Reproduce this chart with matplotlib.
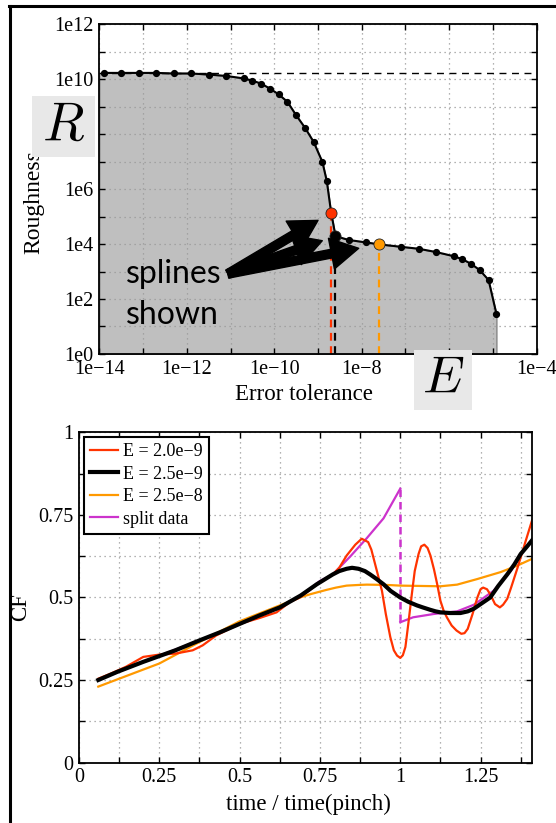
import numpy as np
import matplotlib
matplotlib.use("Agg")
import matplotlib.pyplot as plt
from matplotlib.patches import Rectangle
from matplotlib.lines import Line2D

plt.rcParams['font.family'] = ['Liberation Serif', 'DejaVu Serif']
plt.rcParams['mathtext.fontset'] = 'cm'

# ---- top panel: roughness vs error tolerance (log10 values)
log_tol = [-13.9, -13.5, -13.1, -12.7, -12.3, -11.9, -11.5, -11.1, -10.7, -10.5,
           -10.3, -10.1, -9.9, -9.7, -9.5, -9.3, -9.1, -8.9, -8.8, -8.7, -8.6,
           -8.3, -7.9, -7.6, -7.1, -6.7, -6.3, -5.9, -5.7, -5.5, -5.3, -5.1, -4.92]
log_rough = [10.23, 10.23, 10.23, 10.23, 10.21, 10.21, 10.17, 10.12, 10.03, 9.95,
             9.84, 9.66, 9.45, 9.18, 8.69, 8.24, 7.72, 6.99, 6.30, 5.15, 4.29,
             4.15, 4.06, 3.99, 3.90, 3.83, 3.71, 3.56, 3.45, 3.28, 3.05, 2.69, 1.45]
shown_E = [2.0e-9, 2.5e-9, 2.5e-8]
shown_R = [1.4e5, 1.95e4, 9.8e3]
shown_colors = ['#ff3300', 'black', '#ff9900']

x_ticks = [1e-14, 1e-13, 1e-12, 1e-11, 1e-10, 1e-9, 1e-8, 1e-7, 1e-6, 1e-5, 1e-4]
x_labels = ['1e\u221214', '', '1e\u221212', '', '1e\u221210', '', '1e\u22128', '', '1e\u22126', '', '1e\u22124']
y_ticks = [1e0, 1e1, 1e2, 1e3, 1e4, 1e5, 1e6, 1e7, 1e8, 1e9, 1e10, 1e11, 1e12]
y_labels = ['1e0', '', '1e2', '', '1e4', '', '1e6', '', '1e8', '', '1e10', '', '1e12']

# ---- bottom panel: CF vs time / time(pinch)
t_a = [0.06, 0.1, 0.146, 0.2, 0.25, 0.3, 0.354, 0.385, 0.427, 0.5, 0.5625, 0.615,
       0.656, 0.6875, 0.75, 0.79, 0.81, 0.833, 0.86, 0.88, 0.90, 0.91, 0.93, 0.943,
       0.955, 0.969, 0.98, 0.99, 1.0, 1.008, 1.016, 1.025, 1.036, 1.045, 1.057,
       1.065, 1.075, 1.085, 1.094, 1.105, 1.115, 1.125, 1.135, 1.145, 1.16, 1.175,
       1.19, 1.2, 1.21, 1.225, 1.24, 1.25, 1.258, 1.27, 1.28, 1.295, 1.31, 1.32,
       1.333, 1.345, 1.365, 1.39, 1.41]
cf_a = [0.254, 0.27, 0.29, 0.32, 0.327, 0.33, 0.34, 0.355, 0.385, 0.42, 0.438, 0.455,
        0.486, 0.50, 0.546, 0.57, 0.59, 0.627, 0.66, 0.678, 0.668, 0.645, 0.57, 0.52,
        0.45, 0.38, 0.34, 0.324, 0.317, 0.325, 0.35, 0.42, 0.51, 0.58, 0.632,
        0.655, 0.66, 0.65, 0.627, 0.585, 0.54, 0.49, 0.46, 0.44, 0.415, 0.40,
        0.39, 0.392, 0.405, 0.45, 0.50, 0.525, 0.53, 0.525, 0.51, 0.48, 0.47, 0.478,
        0.496, 0.53, 0.59, 0.67, 0.733]
t_b = [0.06, 0.12, 0.2, 0.3, 0.375, 0.44, 0.5, 0.56, 0.625, 0.69, 0.74, 0.79, 0.81,
       0.833, 0.85, 0.87, 0.89, 0.906, 0.925, 0.948, 0.97, 1.0, 1.025, 1.052, 1.07,
       1.094, 1.11, 1.125, 1.155, 1.1875, 1.21, 1.229, 1.25, 1.28, 1.305, 1.333,
       1.355, 1.375, 1.395, 1.41]
cf_b = [0.25, 0.275, 0.305, 0.34, 0.37, 0.395, 0.42, 0.445, 0.47, 0.506, 0.54, 0.57,
        0.58, 0.587, 0.59, 0.587, 0.58, 0.57, 0.557, 0.54, 0.52, 0.50, 0.487, 0.476,
        0.47, 0.4625, 0.458, 0.455, 0.453, 0.453, 0.458, 0.466, 0.48, 0.50, 0.535,
        0.57, 0.60, 0.632, 0.655, 0.673]
t_c = [0.06, 0.25, 0.375, 0.5, 0.625, 0.6875, 0.72, 0.77, 0.8, 0.833, 0.87, 0.896,
       0.96, 1.0, 1.125, 1.177, 1.24, 1.3125, 1.365, 1.41]
cf_c = [0.23, 0.30, 0.365, 0.428, 0.476, 0.50, 0.51, 0.523, 0.53, 0.536, 0.538, 0.539,
        0.538, 0.536, 0.534, 0.539, 0.556, 0.577, 0.597, 0.617]
t_split1 = [0.06, 0.2, 0.375, 0.5, 0.625, 0.69, 0.75, 0.79, 0.844, 0.896, 0.948, 1.0]
cf_split1 = [0.25, 0.305, 0.37, 0.42, 0.47, 0.506, 0.55, 0.57, 0.624, 0.68, 0.74, 0.83]
t_split2 = [1.0, 1.04, 1.104, 1.177, 1.229, 1.29, 1.344, 1.375, 1.41]
cf_split2 = [0.425, 0.44, 0.45, 0.458, 0.478, 0.52, 0.58, 0.63, 0.673]
legend_labels = ['E = 2.0e\u22129', 'E = 2.5e\u22129', 'E = 2.5e\u22128', 'split data']

fig = plt.figure(figsize=(5.56, 8.23), dpi=100)

# ================= top =================
ax1 = fig.add_axes([0.1786, 0.5699, 0.7867, 0.4006])
tol = 10.0 ** np.array(log_tol)
rough = 10.0 ** np.array(log_rough)
ax1.set_xscale('log')
ax1.set_yscale('log')
ax1.set_xlim(1e-14, 1e-4)
ax1.set_ylim(1e0, 1e12)

fill_x = np.concatenate([[1e-14], tol])
fill_y = np.concatenate([[rough[0]], rough])
ax1.fill_between(fill_x, 1, fill_y, facecolor='#bfbfbf', edgecolor='0.45', lw=0.8, zorder=1)
ax1.axhline(rough[0], color='black', ls=(0, (5, 4)), lw=1, zorder=2)
for e, r, c in zip(shown_E, shown_R, shown_colors):
    ax1.plot([e, e], [1, r], color=c, ls=(0, (3.5, 2.5)), lw=1.6, zorder=2)
ax1.plot(tol, rough, '-o', color='black', lw=1.5, ms=4.2, zorder=3)
for e, r, c in zip(shown_E, shown_R, shown_colors):
    ax1.plot(e, r, 'o', color=c, mec='#222222', mew=0.6, ms=8, zorder=4)

ax1.set_xticks(x_ticks, x_labels)
ax1.set_yticks(y_ticks, y_labels)
ax1.minorticks_off()
ax1.grid(True, color='0.6', ls=(0, (1, 3)), lw=0.9)
ax1.tick_params(direction='in', top=True, right=True, length=4, width=1,
                labelsize=14.5, pad=4)
for s in ax1.spines.values():
    s.set_linewidth(1.3)
ax1.set_xlabel('Error tolerance', fontsize=16.5)
ax1.xaxis.set_label_coords(0.468, -0.09)
ax1.set_ylabel('Roughness', fontsize=17)
ax1.yaxis.set_label_coords(-0.125, 0.46)

ax1.text(0.061, 0.215, 'splines', transform=ax1.transAxes, family='Lato',
         fontsize=23, va='baseline', ha='left')
ax1.text(0.061, 0.091, 'shown', transform=ax1.transAxes, family='Lato',
         fontsize=23, va='baseline', ha='left')
for e, r, sb in zip(shown_E, shown_R, [11, 10, 15]):
    ax1.annotate('', xy=(e, r), xytext=(0.294, 0.243), textcoords='axes fraction',
                 arrowprops=dict(arrowstyle='simple,head_length=0.8,head_width=0.9,tail_width=0.25',
                                 mutation_scale=25, fc='black', ec='black',
                                 shrinkA=0, shrinkB=sb), zorder=5)

# ================= bottom =================
ax2 = fig.add_axes([0.1421, 0.0735, 0.8147, 0.401])
ax2.plot(t_split1, cf_split1, color='#cc33cc', lw=1.6, zorder=2, label=legend_labels[3])
ax2.plot(t_split2, cf_split2, color='#cc33cc', lw=1.6, zorder=2)
ax2.plot([t_split1[-1], t_split2[0]], [cf_split1[-1], cf_split2[0]], color='#cc33cc',
         ls=(0, (3, 2)), lw=1.8, zorder=2)
ax2.plot(t_c, cf_c, color='#ff9900', lw=1.6, zorder=2.1, label=legend_labels[2])
ax2.plot(t_a, cf_a, color='#ff3300', lw=1.6, zorder=2.2, label=legend_labels[0])
ax2.plot(t_b, cf_b, color='black', lw=3, zorder=2.3, label=legend_labels[1])

ax2.set_xlim(0, 1.41)
ax2.set_ylim(0, 1)
xt = np.arange(0, 1.41, 0.125)
ax2.set_xticks(xt, ['0', '', '0.25', '', '0.5', '', '0.75', '', '1', '', '1.25', ''])
yt = np.arange(0, 1.01, 0.125)
ax2.set_yticks(yt, ['0', '', '0.25', '', '0.5', '', '0.75', '', '1'])
ax2.grid(True, color='0.6', ls=(0, (1, 3)), lw=0.9)
ax2.tick_params(direction='in', top=True, right=True, length=4, width=1,
                labelsize=14.5, pad=4)
for s in ax2.spines.values():
    s.set_linewidth(1.3)
ax2.set_xlabel('time / time(pinch)', fontsize=16.5)
ax2.xaxis.set_label_coords(0.506, -0.095)
ax2.set_ylabel('CF', fontsize=16.5)
ax2.yaxis.set_label_coords(-0.105, 0.47)

h, l = ax2.get_legend_handles_labels()
order = [l.index(x) for x in legend_labels]
leg = ax2.legend([h[i] for i in order], [l[i] for i in order], loc='upper left',
                 fontsize=13, handlelength=1.55, handletextpad=0.3, labelspacing=0.3,
                 borderpad=0.35, borderaxespad=0.25, fancybox=False, framealpha=1)
leg.get_frame().set_edgecolor('black')
leg.get_frame().set_linewidth(1.5)

# ---- big R / E labels on grey boxes
fig.add_artist(Rectangle((0.0576, 0.8092), 0.1133, 0.0741, transform=fig.transFigure,
                         facecolor='#e8e8e8', edgecolor='none', zorder=5))
fig.text(0.0576 + 0.1133 / 2, 0.8092 + 0.0741 / 2, r'$R$', fontsize=39,
         ha='center', va='center', zorder=6)
fig.add_artist(Rectangle((0.7446, 0.5018), 0.1043, 0.0729, transform=fig.transFigure,
                         facecolor='#e8e8e8', edgecolor='none', zorder=5))
fig.text(0.7446 + 0.1043 / 2, 0.5018 + 0.0729 / 2, r'$E$', fontsize=38,
         ha='center', va='center', zorder=6)

# frame lines (top and left)
fig.add_artist(Line2D([9 / 556, 1], [1 - 6 / 823, 1 - 6 / 823], transform=fig.transFigure,
                      color='black', lw=2.2))
fig.add_artist(Line2D([10 / 556, 10 / 556], [0, 1 - 6 / 823], transform=fig.transFigure,
                      color='black', lw=2.2))

fig.savefig('out.png', dpi=100)
